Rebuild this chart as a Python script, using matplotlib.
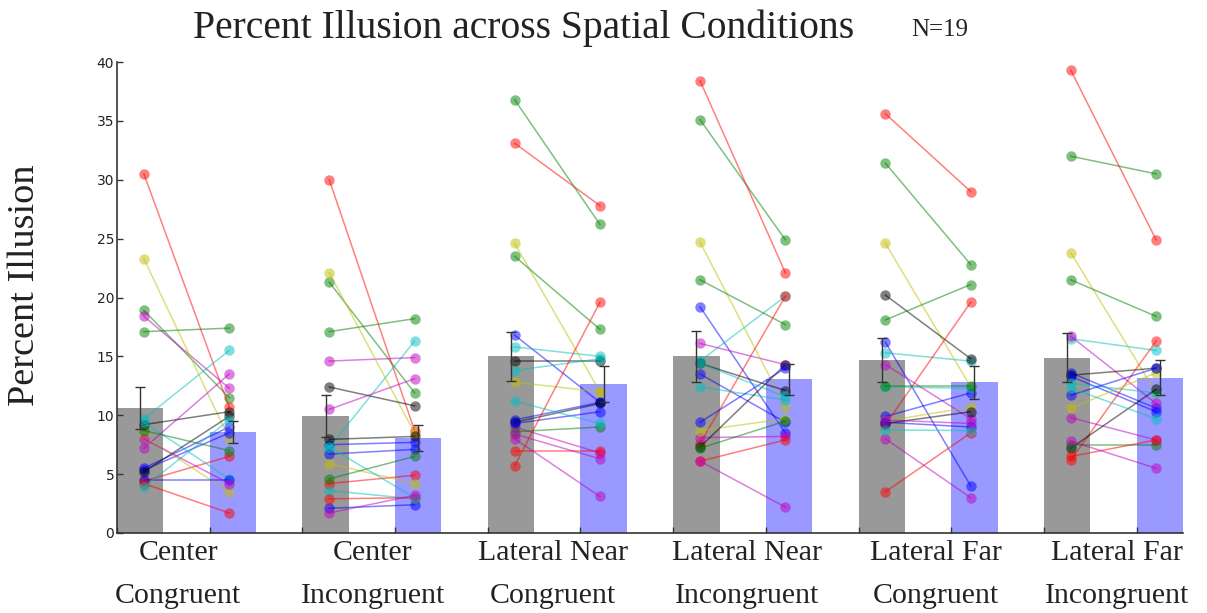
import matplotlib
matplotlib.use("Agg")
import matplotlib.pyplot as plt
import matplotlib.transforms as mtransforms
import numpy as np

# ---------------- data ----------------
conditions = ["Center\nCongruent", "Center\nIncongruent", "Lateral Near\nCongruent",
              "Lateral Near\nIncongruent", "Lateral Far\nCongruent", "Lateral Far\nIncongruent"]

subject_colors = ['b', 'g', 'r', 'c', 'm', 'y', 'k',
                  'b', 'g', 'r', 'c', 'm', 'y', 'k',
                  'b', 'g', 'r', 'c', 'm']

# per-subject values (gray = first bar of each pair, blue = second bar)
center_cong_gray = [5.5, 18.9, 30.5, 9.7, 18.4, 23.3, 9.2, 5.35, 17.1, 4.4, 9.4, 7.2, 8.2, 5.2, 4.5, 8.7, 4.2, 3.9, 8.0]
center_cong_blue = [9.0, 11.5, 10.7, 15.5, 12.3, 8.0, 10.3, 8.5, 17.4, 6.5, 4.6, 13.5, 3.5, 9.9, 4.5, 7.0, 1.7, 9.6, 4.2]

center_incong_gray = [7.5, 21.3, 30.0, 7.25, 14.6, 22.1, 12.4, 6.7, 17.1, 4.2, 3.6, 10.5, 5.9, 7.95, 2.1, 4.6, 2.9, 7.3, 1.7]
center_incong_blue = [7.7, 11.9, 8.7, 16.3, 14.9, 8.5, 10.8, 7.1, 18.2, 4.9, 2.9, 13.1, 4.2, 8.2, 2.4, 6.5, 3.0, 3.0, 3.2]

near_cong_gray = [16.8, 36.8, 33.1, 15.8, 9.0, 24.6, 14.6, 9.6, 23.5, 7.0, 13.8, 8.0, 12.8, 9.4, 9.3, 8.6, 5.7, 11.2, 8.4]
near_cong_blue = [11.1, 26.2, 27.8, 15.0, 6.8, 12.0, 14.6, 11.1, 17.3, 7.0, 14.8, 3.1, 12.0, 11.0, 10.3, 9.0, 19.6, 9.3, 6.3]

near_incong_gray = [19.2, 35.1, 38.4, 14.6, 16.1, 24.7, 14.4, 13.5, 21.5, 7.6, 12.4, 8.1, 8.7, 7.3, 9.4, 7.2, 6.1, 14.4, 6.1]
near_incong_blue = [8.5, 24.9, 22.1, 20.1, 14.3, 10.7, 12.1, 9.4, 17.7, 20.1, 11.3, 8.2, 9.7, 14.3, 14.0, 9.5, 7.9, 11.6, 2.2]

far_cong_gray = [16.2, 31.4, 35.6, 15.3, 14.3, 24.6, 20.2, 9.9, 18.1, 9.2, 12.4, 8.0, 9.5, 9.3, 9.4, 12.5, 3.5, 8.75, 9.6]
far_cong_blue = [4.0, 22.8, 29.0, 14.6, 9.7, 12.4, 14.8, 11.9, 21.1, 19.6, 12.3, 3.0, 10.7, 10.3, 9.0, 12.5, 8.5, 8.7, 9.3]

far_incong_gray = [13.6, 32.0, 39.3, 16.5, 16.7, 23.8, 13.4, 13.3, 21.5, 6.2, 12.7, 9.8, 10.6, 7.2, 11.7, 7.5, 6.5, 12.3, 7.8]
far_incong_blue = [10.6, 30.5, 24.9, 15.5, 11.0, 11.9, 14.0, 10.3, 18.4, 16.3, 11.9, 7.9, 13.6, 12.2, 14.0, 7.5, 7.9, 9.7, 5.5]

gray_means = [10.6, 9.95, 15.0, 15.0, 14.7, 14.9]
gray_errs = [1.8, 1.8, 2.1, 2.15, 1.9, 2.05]
blue_means = [8.6, 8.1, 12.65, 13.05, 12.8, 13.2]
blue_errs = [0.95, 1.1, 1.5, 1.3, 1.4, 1.5]

yticks = [0, 5, 10, 15, 20, 25, 30, 35, 40]
title_text = "Percent Illusion across Spatial Conditions"
n_text = "N=19"
ylabel_text = "Percent Illusion"

# ---------------- plot ----------------
pairs = [(center_cong_gray, center_cong_blue), (center_incong_gray, center_incong_blue),
         (near_cong_gray, near_cong_blue), (near_incong_gray, near_incong_blue),
         (far_cong_gray, far_cong_blue), (far_incong_gray, far_incong_blue)]

serif = ['Liberation Serif', 'DejaVu Serif']

fig = plt.figure(figsize=(12.07, 6.13), dpi=100)
ax = fig.add_axes([117/1207, 80/613, (1183-117)/1207, (533-62)/613])

gray_x = np.arange(1, 13, 2)
blue_x = gray_x + 1
bw = 0.5

ax.bar(gray_x, gray_means, width=bw, color='#999999', zorder=1)
ax.bar(blue_x, blue_means, width=bw, color='#9999ff', zorder=1)

off = 0.04
for i, (g, b) in enumerate(pairs):
    for s in range(len(g)):
        col = subject_colors[s]
        ax.plot([gray_x[i] + off, blue_x[i] - off], [g[s], b[s]], '-o', color=col,
                alpha=0.5, lw=1.1, markersize=7.5, markeredgewidth=0, zorder=3)

ax.errorbar(gray_x, gray_means, yerr=gray_errs, fmt='none', ecolor='#333333',
            elinewidth=1, capsize=3.5, capthick=1, zorder=4)
ax.errorbar(blue_x, blue_means, yerr=blue_errs, fmt='none', ecolor='#333333',
            elinewidth=1, capsize=3.5, capthick=1, zorder=4)

ax.set_xlim(0.75, 12.25)
ax.set_ylim(0, 40)
ax.set_yticks(yticks)
ax.set_xticks(np.concatenate([gray_x, blue_x]) - bw / 2)
ax.set_xticklabels([])
ax.tick_params(axis='both', direction='in', length=4, width=1, color='#333333')
ax.tick_params(axis='y', labelsize=10, pad=2, labelcolor='#222222')
for side in ('top', 'right'):
    ax.spines[side].set_visible(False)
for side in ('left', 'bottom'):
    ax.spines[side].set_color('#333333')
    ax.spines[side].set_linewidth(1.2)

# label centres (slightly off the pair centres, as in the original)
label_shift = [-0.09, 0.01, -0.05, 0.05, 0.08, 0.04]
trans = mtransforms.blended_transform_factory(ax.transData, ax.transAxes)
for i, lab in enumerate(conditions):
    l1, l2 = lab.split("\n")
    xc = (gray_x[i] + blue_x[i]) / 2 + label_shift[i]
    ax.text(xc, -0.0573, l1, transform=trans, ha='center', va='baseline',
            fontsize=21.5, family=serif, color='#222222')
    ax.text(xc, -0.1486, l2, transform=trans, ha='center', va='baseline',
            fontsize=21.5, family=serif, color='#222222')

fig.text(524/1207, 1 - 28/613, title_text, ha='center', va='center',
         fontsize=28.5, family=serif, color='#222222')
fig.text(940/1207, 1 - 30/613, n_text, ha='center', va='center',
         fontsize=18, family=serif, color='#222222')
fig.text(25/1207, 1 - 285/613, ylabel_text, ha='center', va='center', rotation=90,
         fontsize=27.5, family=serif, color='#222222')

fig.savefig("out.png", dpi=100)
